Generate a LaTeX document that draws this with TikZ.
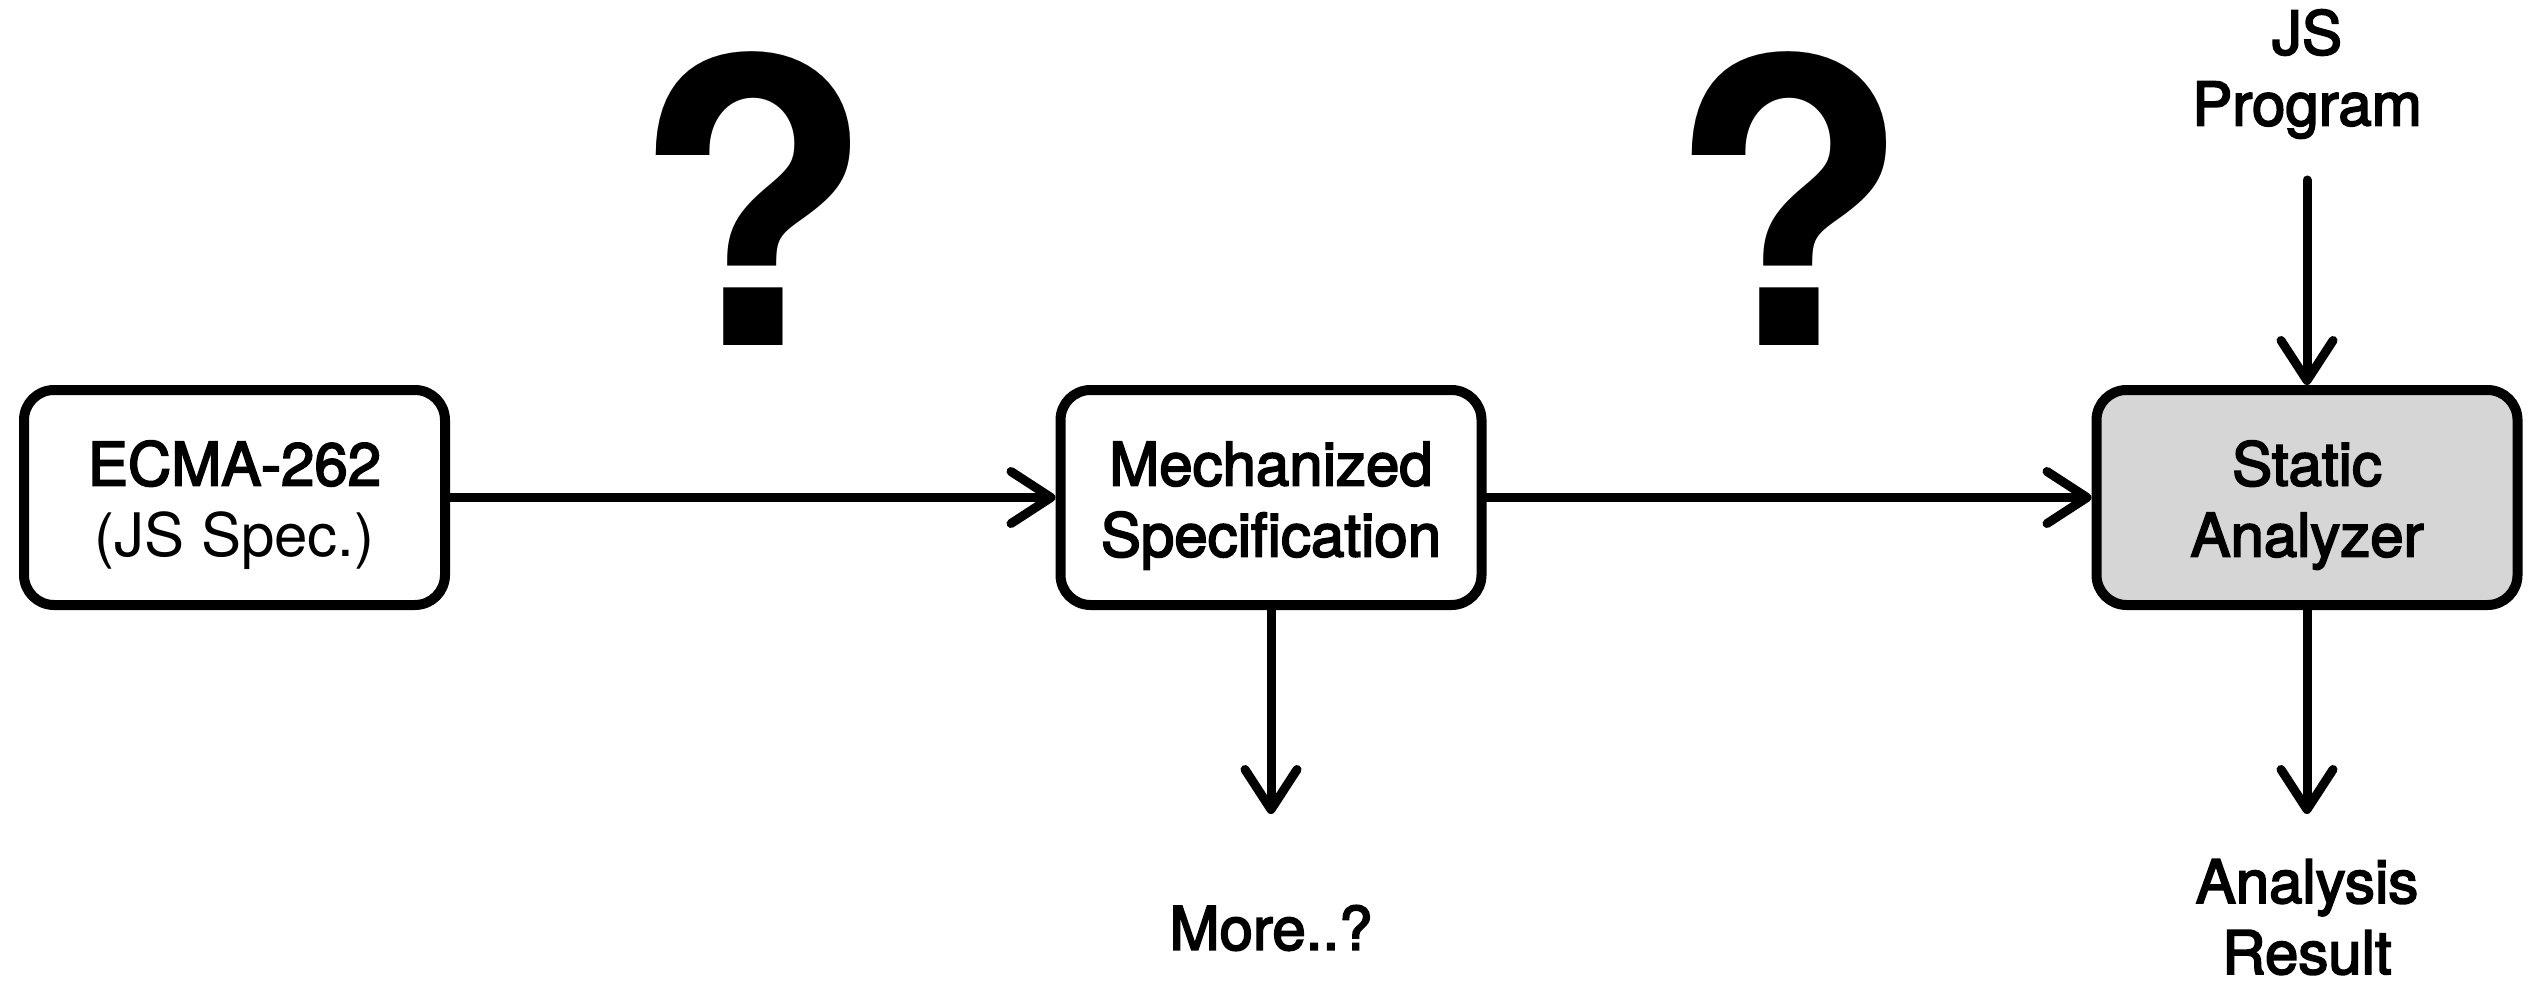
\documentclass[tikz,border=0pt]{standalone}
\usepackage{fontspec}
\setmainfont{TeX Gyre Heros}
\newfontfamily\medfont[FakeBold=3]{TeX Gyre Heros}
\usetikzlibrary{arrows.meta}
% tall zero-width strut that lowers the text block inside a stage box
\newcommand\stagetop{\rule{0pt}{60pt}}
\tikzset{
  stage/.style={draw, line width=10pt, rounded corners=30pt, minimum width=421pt,
    minimum height=215pt, inner sep=0pt, align=center, fill=white,
    font=\medfont\fontsize{60}{71}\selectfont},
  label/.style={inner sep=0pt, align=center, font=\medfont\fontsize{60}{71}\selectfont},
  flow/.style={line width=9pt, line cap=round,
    -{Straight Barb[length=40pt,width=52pt,line width=9pt,round]}},
  qmark/.style={inner sep=0pt, anchor=base, font=\bfseries\fontsize{395}{400}\selectfont}
}
\begin{document}
\begin{tikzpicture}[x=1pt,y=-1pt]
  \useasboundingbox (0,0) rectangle (2539,984);

  % the three stages
  \node[stage] (ecma) at (234.5,497.5) {\stagetop ECMA-262\\{\normalfont (JS Spec.)}};
  \node[stage] (mech) at (1271,497.5) {\stagetop Mechanized\\Specification};
  \node[stage, fill={rgb,255:red,214;green,214;blue,214}] (sa) at (2307,497.5) {\stagetop Static\\Analyzer};

  % open questions between stages
  \node[qmark] (q1) at (753,345) {?};
  \node[qmark] (q2) at (1789,345) {?};

  % inputs and outputs
  \node[label] (prog) at (2307,74) {JS\\Program};
  \coordinate (progend) at (2307,180);
  \node[label] (more) at (1271,928) {More..?};
  \coordinate (moretip) at (1271,814);
  \node[label] (res) at (2307,917) {Analysis\\Result};
  \coordinate (restip) at (2307,814);

  % connectors
  \draw[flow] (ecma.east) -- (mech.west);
  \draw[flow] (mech.east) -- (sa.west);
  \draw[flow] (progend) -- (sa.north);
  \draw[flow] (mech.south) -- (moretip);
  \draw[flow] (sa.south) -- (restip);
\end{tikzpicture}
\end{document}
